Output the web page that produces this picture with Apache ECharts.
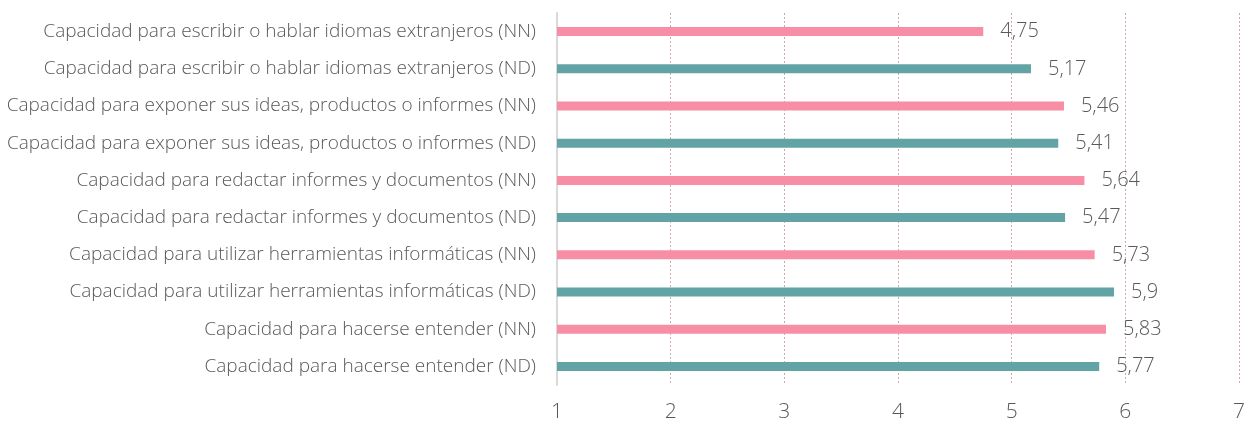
<!DOCTYPE html>
<html><head><meta charset="utf-8">
<script src="https://cdn.jsdelivr.net/npm/echarts@6/dist/echarts.min.js"></script>
<style>html,body{margin:0;padding:0;background:#fff}#c{width:1248px;height:423px}</style>
</head><body><div id="c"></div>
<script>
const categories = [
  "Capacidad para escribir o hablar idiomas extranjeros (NN)",
  "Capacidad para escribir o hablar idiomas extranjeros (ND)",
  "Capacidad para exponer sus ideas, productos o informes (NN)",
  "Capacidad para exponer sus ideas, productos o informes (ND)",
  "Capacidad para redactar informes y documentos (NN)",
  "Capacidad para redactar informes y documentos (ND)",
  "Capacidad para utilizar herramientas informáticas (NN)",
  "Capacidad para utilizar herramientas informáticas (ND)",
  "Capacidad para hacerse entender (NN)",
  "Capacidad para hacerse entender (ND)"
];
const values = [4.75, 5.17, 5.46, 5.41, 5.64, 5.47, 5.73, 5.9, 5.83, 5.77];
const groups = ["NN","ND","NN","ND","NN","ND","NN","ND","NN","ND"];
const colorNN = "#F78EA5";
const colorND = "#62A4A6";

const chart = echarts.init(document.getElementById('c'));
chart.setOption({
  animation: false,
  grid: { left: 557, right: 7, top: 13, bottom: 36 },
  xAxis: {
    type: 'value', min: 1, max: 7, interval: 1,
    axisLine: { show: false }, axisTick: { show: false },
    axisLabel: { color: '#595959', fontSize: 21, fontFamily: 'Open Sans', fontWeight: 300, margin: 17 },
    splitLine: { show: true, lineStyle: { color: '#C9A9AD', width: 1, type: [2, 2] } }
  },
  yAxis: {
    type: 'category', data: categories, inverse: true,
    axisLine: { show: true, lineStyle: { color: '#D9D9D9', width: 2 } },
    axisTick: { show: false },
    axisLabel: { color: '#595959', fontSize: 19, fontFamily: 'Open Sans', fontWeight: 300, margin: 21 }
  },
  series: [{
    type: 'bar',
    data: values.map((v, i) => ({ value: v, itemStyle: { color: groups[i] === 'NN' ? colorNN : colorND } })),
    barWidth: 9,
    label: {
      show: true, position: 'right', distance: 17,
      color: '#595959', fontSize: 20, fontFamily: 'Open Sans', fontWeight: 300,
      formatter: p => String(p.value).replace('.', ',')
    }
  }]
});
</script></body></html>
